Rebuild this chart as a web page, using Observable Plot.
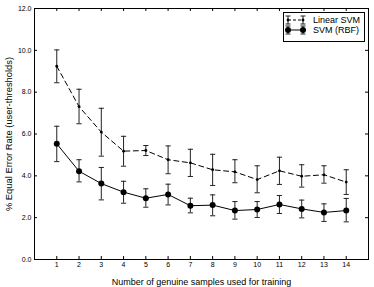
<!DOCTYPE html>
<html>
<head>
<meta charset="utf-8">
<script src="https://cdn.jsdelivr.net/npm/d3@7"></script>
<script src="https://cdn.jsdelivr.net/npm/@observablehq/plot@0.6"></script>
<style>
  html, body { margin: 0; padding: 0; background: #fff; }
  #chart svg { display: block; }
</style>
</head>
<body>
<div id="chart"></div>
<script>
// ---- data ----
const samples   = [1, 2, 3, 4, 5, 6, 7, 8, 9, 10, 11, 12, 13, 14];
const linearEER = [9.24, 7.31, 6.09, 5.18, 5.21, 4.77, 4.62, 4.29, 4.19, 3.82, 4.24, 3.98, 4.05, 3.70];
const linearLo  = [8.45, 6.49, 4.94, 4.46, 4.97, 4.10, 3.97, 3.54, 3.67, 3.19, 3.59, 3.46, 3.65, 3.11];
const linearHi  = [10.02, 8.14, 7.23, 5.89, 5.45, 5.43, 5.27, 5.03, 4.77, 4.48, 4.89, 4.53, 4.48, 4.29];
const rbfEER    = [5.53, 4.22, 3.63, 3.22, 2.93, 3.11, 2.57, 2.60, 2.34, 2.39, 2.63, 2.42, 2.25, 2.34];
const rbfLo     = [4.68, 3.71, 2.85, 2.69, 2.50, 2.61, 2.23, 2.09, 1.93, 2.01, 2.20, 1.99, 1.82, 1.80];
const rbfHi     = [6.37, 4.77, 4.40, 3.74, 3.38, 3.60, 2.93, 3.09, 2.77, 2.77, 3.06, 2.84, 2.66, 2.92];
const xTicks = [1, 2, 3, 4, 5, 6, 7, 8, 9, 10, 11, 12, 13, 14];
const yTicks = [0, 2, 4, 6, 8, 10, 12];
const seriesNames = ["Linear SVM", "SVM (RBF)"];

const linear = samples.map((x, i) => ({x, y: linearEER[i], lo: linearLo[i], hi: linearHi[i]}));
const rbf    = samples.map((x, i) => ({x, y: rbfEER[i], lo: rbfLo[i], hi: rbfHi[i]}));

// ---- layout ----
const W = 374, H = 287;
const mL = 34, mR = 6, mT = 8, mB = 28;
const plotW = W - mL - mR, plotH = H - mT - mB;
const tick = 3;
const font = "'Liberation Sans', Arial, Helvetica, sans-serif";

const hline = {draw(ctx, size) { const r = Math.sqrt(size / Math.PI); ctx.moveTo(-r, 0); ctx.lineTo(r, 0); }};

const errMarks = (data) => [
  Plot.ruleX(data, {x: "x", y1: "lo", y2: "hi", stroke: "#222", strokeWidth: 1}),
  Plot.dot(data, {x: "x", y: "lo", symbol: hline, r: 2.6, fill: "none", stroke: "#222", strokeWidth: 1}),
  Plot.dot(data, {x: "x", y: "hi", symbol: hline, r: 2.6, fill: "none", stroke: "#222", strokeWidth: 1})
];

const chart = Plot.plot({
  width: W, height: H,
  marginLeft: mL, marginRight: mR, marginTop: mT, marginBottom: mB,
  style: {fontFamily: font, fontSize: "7px", color: "#000", background: "#fff"},
  x: {domain: [0, 15]},
  y: {domain: [0, 12]},
  marks: [
    Plot.frame({stroke: "#000", strokeWidth: 1}),
    // inward ticks on all four sides
    Plot.tickX(xTicks, {x: d => d, insetTop: plotH - tick, stroke: "#000"}),
    Plot.tickX(xTicks, {x: d => d, insetBottom: plotH - tick, stroke: "#000"}),
    Plot.tickY(yTicks, {y: d => d, insetRight: plotW - tick, stroke: "#000"}),
    Plot.tickY(yTicks, {y: d => d, insetLeft: plotW - tick, stroke: "#000"}),
    Plot.axisX(xTicks, {tickSize: 0, tickPadding: 3, fontSize: 7, label: "Number of genuine samples used for training", labelAnchor: "center", labelArrow: "none", labelOffset: 25}),
    Plot.axisY(yTicks, {tickSize: 0, tickPadding: 3, fontSize: 7, tickFormat: d3.format(".1f"), label: "% Equal Error Rate (user-thresholds)", labelAnchor: "center", labelArrow: "none", labelOffset: 29}),
    // Linear SVM
    ...errMarks(linear),
    Plot.line(linear, {x: "x", y: "y", stroke: "#000", strokeWidth: 1, strokeDasharray: "5,3.5"}),
    Plot.dot(linear, {x: "x", y: "y", r: 1.4, fill: "#000"}),
    // SVM (RBF)
    ...errMarks(rbf),
    Plot.line(rbf, {x: "x", y: "y", stroke: "#000", strokeWidth: 1}),
    Plot.dot(rbf, {x: "x", y: "y", r: 3, fill: "#000"})
  ]
});

document.getElementById("chart").appendChild(chart);

// style axis labels
const svg = d3.select(chart);
svg.selectAll("[aria-label='x-axis label'] text").style("font-size", "9px");
svg.selectAll("[aria-label='y-axis label'] text").style("font-size", "9.4px");

// ---- legend (inside plot, top-right) ----
const lg = svg.append("g").attr("font-family", font).attr("font-size", "9px").attr("text-anchor", "start");
const bx = 283, by = 12, bw = 81, bh = 29;
lg.append("rect").attr("x", bx + 0.5).attr("y", by + 0.5).attr("width", bw).attr("height", bh)
  .style("fill", "#fff").style("stroke", "#000").style("stroke-width", "1px");
const rows = [
  {name: seriesNames[0], dash: "3,2", r: 1.4},
  {name: seriesNames[1], dash: null, r: 3}
];
rows.forEach((row, i) => {
  const cy = by + 8 + i * 10;
  const x0 = bx + 5, x1 = bx + 20;
  const l = lg.append("line").attr("x1", x0).attr("x2", x1).attr("y1", cy).attr("y2", cy)
    .style("stroke", "#000").style("stroke-width", "1px");
  if (row.dash) l.style("stroke-dasharray", row.dash);
  [x0, x1].forEach(px => {
    lg.append("line").attr("x1", px).attr("x2", px).attr("y1", cy - 4).attr("y2", cy + 4).style("stroke", "#222");
    lg.append("line").attr("x1", px - 2.5).attr("x2", px + 2.5).attr("y1", cy - 4).attr("y2", cy - 4).style("stroke", "#222");
    lg.append("line").attr("x1", px - 2.5).attr("x2", px + 2.5).attr("y1", cy + 4).attr("y2", cy + 4).style("stroke", "#222");
    lg.append("circle").attr("cx", px).attr("cy", cy).attr("r", row.r).style("fill", "#000");
  });
  lg.append("text").attr("x", bx + 30).attr("y", cy).attr("dy", "0.35em").style("fill", "#000").text(row.name);
});
</script>
</body>
</html>
